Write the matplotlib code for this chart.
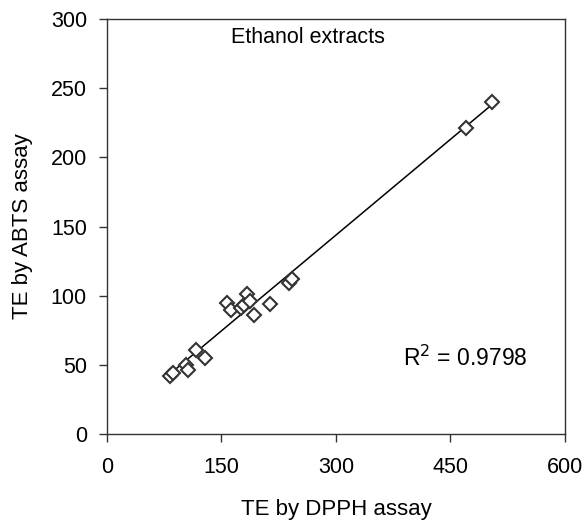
import numpy as np
import matplotlib
matplotlib.use("Agg")
import matplotlib.pyplot as plt

plt.rcParams['font.family'] = ['Liberation Sans', 'DejaVu Sans']

# TE values
dpph = [83, 86, 103, 106, 117, 128, 157, 162, 176, 179, 184, 187, 193, 214, 238, 243, 471, 504]
abts = [42, 44, 50, 46, 61, 55, 95, 90, 91, 93, 101, 96, 86, 94, 109, 112, 221, 240]
r2_label = "R$^2$ = 0.9798"

x = np.array(dpph)
y = np.array(abts)
slope, icpt = np.polyfit(x, y, 1)
xl = np.array([x.min(), x.max()])

fig = plt.figure(figsize=(5.87, 5.25), dpi=100)
ax = fig.add_axes([0.1823, 0.1733, 0.780, 0.7905])

ax.plot(xl, slope * xl + icpt, color='black', lw=1.1)
ax.plot(x, y, 'D', ms=7.5, mfc='white', mec='#333333', mew=1.5)

ax.set_xlim(0, 600)
ax.set_ylim(0, 300)
ax.set_xticks([0, 150, 300, 450, 600])
ax.set_yticks([0, 50, 100, 150, 200, 250, 300])
ax.tick_params(labelsize=15.5, direction='out', length=5.5, width=1, color='#333333')
ax.tick_params(axis='x', pad=11)
ax.tick_params(axis='y', pad=9)
for s in ax.spines.values():
    s.set_color('#333333')
    s.set_linewidth(1)

fig.text(0.5723, 0.0286, "TE by DPPH assay", fontsize=16, ha='center', va='center')
fig.text(0.039, 0.5686, "TE by ABTS assay", fontsize=16, ha='center', va='center',
         rotation=90)
ax.text(263, 283, "Ethanol extracts", fontsize=15.5, ha='center', va='baseline')
ax.text(388, 49, r2_label, fontsize=16.5, ha='left', va='baseline')

fig.savefig("out.png", dpi=100)
